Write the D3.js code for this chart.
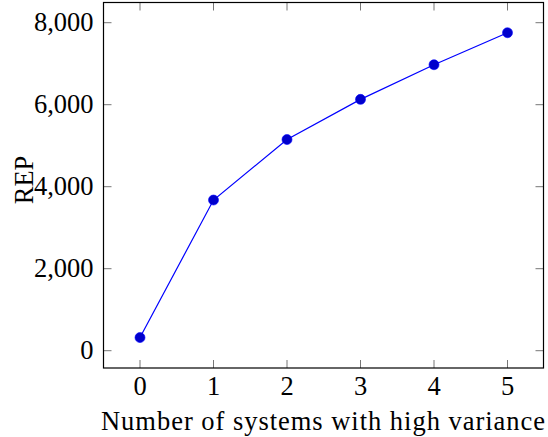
<!DOCTYPE html>
<html><head><meta charset="utf-8">
<script src="https://cdn.jsdelivr.net/npm/d3@7"></script>
<style>body{margin:0;background:#fff}svg{display:block}</style>
</head><body><svg id="c" width="548" height="437"></svg>
<script>
const xValues = [0, 1, 2, 3, 4, 5];
const repValues = [320, 3675, 5150, 6130, 6975, 7755];
const xTicks = [0, 1, 2, 3, 4, 5];
const yTicks = [0, 2000, 4000, 6000, 8000];
const xLabel = "Number of systems with high variance";
const yLabel = "REP";

const FONT = "'Liberation Serif', 'Times New Roman', Times, 'DejaVu Serif', serif";
const FS = 26.5;
const svg = d3.select("#c");
const L = 103.5, R = 543.5, T = 2.5, B = 368;
const x = d3.scaleLinear().domain([0, 5]).range([140, 507.5]);
const y = d3.scaleLinear().domain([0, 8000]).range([350.7, 22.7]);
const fmt = d3.format(",");
const tickLen = 8;
const tickColor = "#777";

const g = svg.append("g").attr("font-family", FONT);
xTicks.forEach(t => {
  g.append("line").attr("x1", x(t)).attr("x2", x(t)).attr("y1", B).attr("y2", B - tickLen).attr("stroke", tickColor).attr("stroke-width", 1);
  g.append("line").attr("x1", x(t)).attr("x2", x(t)).attr("y1", T).attr("y2", T + tickLen).attr("stroke", tickColor).attr("stroke-width", 1);
  g.append("text").attr("x", x(t)).attr("y", 395).attr("text-anchor", "middle").attr("font-size", FS).attr("font-family", FONT).text(t);
});
yTicks.forEach(t => {
  g.append("line").attr("x1", L).attr("x2", L + tickLen).attr("y1", y(t)).attr("y2", y(t)).attr("stroke", tickColor).attr("stroke-width", 1);
  g.append("line").attr("x1", R).attr("x2", R - tickLen).attr("y1", y(t)).attr("y2", y(t)).attr("stroke", tickColor).attr("stroke-width", 1);
  g.append("text").attr("x", 93.5).attr("y", y(t) + 8).attr("text-anchor", "end").attr("font-size", FS).attr("font-family", FONT).text(fmt(t));
});

svg.append("rect").attr("x", L).attr("y", T).attr("width", R - L).attr("height", B - T)
  .attr("fill", "none").attr("stroke", "#000").attr("stroke-width", 1.2);

const data = xValues.map((v, i) => ({x: v, y: repValues[i]}));
svg.append("path").datum(data)
  .attr("d", d3.line().x(d => x(d.x)).y(d => y(d.y)))
  .attr("fill", "none").attr("stroke", "#0000ff").attr("stroke-width", 1.2);
svg.selectAll("circle.pt").data(data).enter().append("circle")
  .attr("cx", d => x(d.x)).attr("cy", d => y(d.y)).attr("r", 5)
  .attr("fill", "#0000cc").attr("stroke", "#0000ff").attr("stroke-width", 0.6);

svg.append("text").attr("x", 323).attr("y", 430).attr("text-anchor", "middle").attr("font-size", FS)
  .attr("font-family", FONT).attr("textLength", 444).attr("lengthAdjust", "spacing").text(xLabel);
svg.append("text").attr("transform", "translate(33,180) rotate(-90)").attr("text-anchor", "middle").attr("font-size", FS).attr("font-family", FONT).text(yLabel);
</script></body></html>
